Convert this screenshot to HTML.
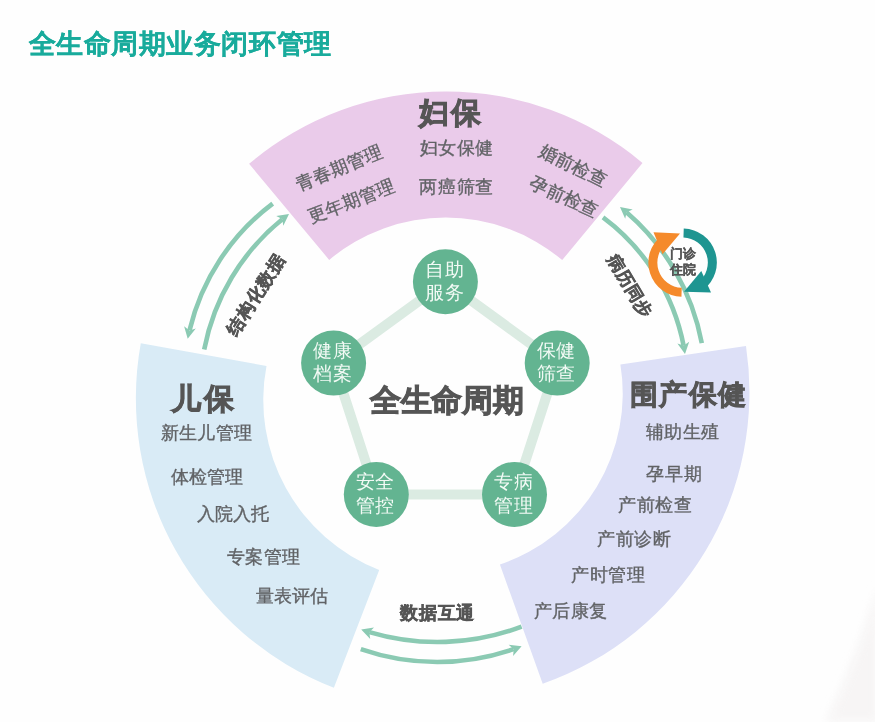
<!DOCTYPE html>
<html><head><meta charset="utf-8"><style>
html,body{margin:0;padding:0;background:#fefefe;width:875px;height:722px;overflow:hidden}
svg{position:absolute;left:0;top:0;font-family:"Liberation Sans", sans-serif;will-change:transform}
</style></head><body>
<svg width="875" height="722" viewBox="0 0 875 722"><defs><filter id="bl" x="-50%" y="-50%" width="200%" height="200%"><feGaussianBlur stdDeviation="5"/></filter></defs>
<path d="M878,585 C866,630 846,680 826,722 L878,722 Z" fill="#f4f2f2" opacity="0.75" filter="url(#bl)"/>
<path d="M249.1,163.8 A305.4,305.4 0 0 1 642.5,162.9 L562.2,260.1 A180.9,180.9 0 0 0 329.2,259.9 Z" fill="#eacbea"/>
<path d="M746,346.1 A309,309 0 0 1 542.7,683.8 L499.9,564.5 A180.4,180.4 0 0 0 620.4,364.6 Z" fill="#dde0f7"/>
<path d="M333.9,687.7 A310.4,310.4 0 0 1 140.8,343.2 L266.5,366 A182.3,182.3 0 0 0 379.2,569.9 Z" fill="#d9ebf6"/>
<path d="M272.7,203.6 A223.6,223.6 0 0 0 189.5,330.4" fill="none" stroke="#8bcab3" stroke-width="4.6"/>
<path d="M187.7,338.7 L184.1,326.3 L189.4,330.4 L195.8,328.6 Z" fill="#8bcab3"/>
<path d="M204.2,349.5 A221.2,221.2 0 0 1 282.3,219.3" fill="none" stroke="#8bcab3" stroke-width="4.6"/>
<path d="M289.0,214.1 L283.3,225.7 L282.2,219.1 L276.2,216.1 Z" fill="#8bcab3"/>
<path d="M701.8,343.2 A228.2,228.2 0 0 0 626.5,212.3" fill="none" stroke="#8bcab3" stroke-width="4.6"/>
<path d="M620.0,206.9 L632.7,209.4 L626.6,212.2 L625.2,218.8 Z" fill="#8bcab3"/>
<path d="M603.0,217.4 A209.7,209.7 0 0 1 683.6,345.6" fill="none" stroke="#8bcab3" stroke-width="4.6"/>
<path d="M685.0,354.0 L677.4,343.5 L683.8,345.6 L689.2,341.7 Z" fill="#8bcab3"/>
<path d="M521.6,626.6 A238.0,238.0 0 0 1 369.3,632.1" fill="none" stroke="#8bcab3" stroke-width="4.6"/>
<path d="M361.2,629.5 L374.0,627.5 L369.3,632.2 L370.2,638.9 Z" fill="#8bcab3"/>
<path d="M360.8,649.1 A232.8,232.8 0 0 0 513.6,649.1" fill="none" stroke="#8bcab3" stroke-width="4.6"/>
<path d="M521.6,646.2 L513.1,656.0 L513.7,649.3 L508.7,644.8 Z" fill="#8bcab3"/>
<polygon points="445.4,281.8 333.6,363.1 376.3,494.5 514.5,494.5 557.2,363.1" fill="none" stroke="#dbebe2" stroke-width="10" stroke-linejoin="round"/>
<circle cx="445.4" cy="281.8" r="32.5" fill="#63b491"/>
<text x="444.6" y="275.5" text-anchor="middle" font-size="19" letter-spacing="0.8" fill="#f2faf5">自助</text>
<text x="444.6" y="299.0" text-anchor="middle" font-size="19" letter-spacing="0.8" fill="#f2faf5">服务</text>
<circle cx="333.6" cy="363.1" r="32.5" fill="#63b491"/>
<text x="332.8" y="356.8" text-anchor="middle" font-size="19" letter-spacing="0.8" fill="#f2faf5">健康</text>
<text x="332.8" y="380.3" text-anchor="middle" font-size="19" letter-spacing="0.8" fill="#f2faf5">档案</text>
<circle cx="376.3" cy="494.5" r="32.5" fill="#63b491"/>
<text x="375.5" y="488.2" text-anchor="middle" font-size="19" letter-spacing="0.8" fill="#f2faf5">安全</text>
<text x="375.5" y="511.7" text-anchor="middle" font-size="19" letter-spacing="0.8" fill="#f2faf5">管控</text>
<circle cx="514.5" cy="494.5" r="32.5" fill="#63b491"/>
<text x="513.7" y="488.2" text-anchor="middle" font-size="19" letter-spacing="0.8" fill="#f2faf5">专病</text>
<text x="513.7" y="511.7" text-anchor="middle" font-size="19" letter-spacing="0.8" fill="#f2faf5">管理</text>
<circle cx="557.2" cy="363.1" r="32.5" fill="#63b491"/>
<text x="556.4" y="356.8" text-anchor="middle" font-size="19" letter-spacing="0.8" fill="#f2faf5">保健</text>
<text x="556.4" y="380.3" text-anchor="middle" font-size="19" letter-spacing="0.8" fill="#f2faf5">筛查</text>
<text x="28.5" y="52.9" font-size="26.5" fill="#19ab9c" stroke="#19ab9c" stroke-width="0.2" font-weight="bold" letter-spacing="0.56">全生命周期业务闭环管理</text>
<text x="369.6" y="410.9" font-size="31" fill="#555555" stroke="#555555" stroke-width="0.9299999999999999" font-weight="bold" letter-spacing="-0.06">全生命周期</text>
<text x="418.9" y="123.0" font-size="29.5" fill="#555555" stroke="#555555" stroke-width="0.885" font-weight="bold" letter-spacing="1.61">妇保</text>
<text x="419.6" y="154.4" font-size="18" fill="#616366" stroke="#616366" stroke-width="0.35" font-weight="normal" letter-spacing="0.52">妇女保健</text>
<text x="419.4" y="192.7" font-size="18" fill="#616366" stroke="#616366" stroke-width="0.35" font-weight="normal" letter-spacing="0.58">两癌筛查</text>
<text x="629.9" y="403.5" font-size="27.5" fill="#555555" stroke="#555555" stroke-width="0.825" font-weight="bold" letter-spacing="1.49">围产保健</text>
<text x="645.9" y="437.7" font-size="18" fill="#616366" stroke="#616366" stroke-width="0.35" font-weight="normal" letter-spacing="0.47">辅助生殖</text>
<text x="646.1" y="479.5" font-size="18" fill="#616366" stroke="#616366" stroke-width="0.35" font-weight="normal" letter-spacing="1.05">孕早期</text>
<text x="618.1" y="511.2" font-size="18" fill="#616366" stroke="#616366" stroke-width="0.35" font-weight="normal" letter-spacing="0.63">产前检查</text>
<text x="597.1" y="545.4" font-size="18" fill="#616366" stroke="#616366" stroke-width="0.35" font-weight="normal" letter-spacing="0.61">产前诊断</text>
<text x="570.7" y="581.1" font-size="18" fill="#616366" stroke="#616366" stroke-width="0.35" font-weight="normal" letter-spacing="0.85">产时管理</text>
<text x="533.7" y="616.8" font-size="18" fill="#616366" stroke="#616366" stroke-width="0.35" font-weight="normal" letter-spacing="0.60">产后康复</text>
<text x="171.3" y="409.3" font-size="29.5" fill="#555555" stroke="#555555" stroke-width="0.885" font-weight="bold" letter-spacing="2.40">儿保</text>
<text x="160.7" y="439.1" font-size="18" fill="#616366" stroke="#616366" stroke-width="0.35" font-weight="normal" letter-spacing="0.37">新生儿管理</text>
<text x="171.0" y="483.1" font-size="18" fill="#616366" stroke="#616366" stroke-width="0.35" font-weight="normal" letter-spacing="-0.09">体检管理</text>
<text x="197.2" y="519.6" font-size="18" fill="#616366" stroke="#616366" stroke-width="0.35" font-weight="normal" letter-spacing="-0.15">入院入托</text>
<text x="227.0" y="563.2" font-size="18" fill="#616366" stroke="#616366" stroke-width="0.35" font-weight="normal" letter-spacing="0.46">专案管理</text>
<text x="255.9" y="602.3" font-size="18" fill="#616366" stroke="#616366" stroke-width="0.35" font-weight="normal" letter-spacing="0.20">量表评估</text>
<text x="400.1" y="619.1" font-size="17.5" fill="#555555" stroke="#555555" stroke-width="0.525" font-weight="bold" letter-spacing="0.79">数据互通</text>
<text x="0" y="0" transform="translate(339.2,168.1) rotate(-22)" text-anchor="middle" dominant-baseline="central" font-size="18" fill="#616366" stroke="#616366" stroke-width="0.35" font-weight="normal" letter-spacing="0.2">青春期管理</text>
<text x="0" y="0" transform="translate(351.7,201.4) rotate(-21)" text-anchor="middle" dominant-baseline="central" font-size="18" fill="#616366" stroke="#616366" stroke-width="0.35" font-weight="normal" letter-spacing="0.2">更年期管理</text>
<text x="0" y="0" transform="translate(573.0,165.5) rotate(26.5)" text-anchor="middle" dominant-baseline="central" font-size="18" fill="#616366" stroke="#616366" stroke-width="0.35" font-weight="normal" letter-spacing="0.2">婚前检查</text>
<text x="0" y="0" transform="translate(564.0,197.0) rotate(24.5)" text-anchor="middle" dominant-baseline="central" font-size="18" fill="#616366" stroke="#616366" stroke-width="0.35" font-weight="normal" letter-spacing="0.2">孕前检查</text>
<text x="0" y="0" transform="translate(255.9,294.3) rotate(-57.5)" text-anchor="middle" dominant-baseline="central" font-size="17.5" fill="#555555" stroke="#555555" stroke-width="0.5" font-weight="bold" letter-spacing="0.5">结构化数据</text>
<text x="0" y="0" transform="translate(629.6,286.1) rotate(59.4)" text-anchor="middle" dominant-baseline="central" font-size="17" fill="#555555" stroke="#555555" stroke-width="0.5" font-weight="bold" letter-spacing="0.5">病历同步</text>
<path d="M681.6,292.3 A29.7,29.7 0 0 1 664.3,239.2" fill="none" stroke="#f58a2b" stroke-width="9"/>
<path d="M653.5,232.2 L680,233.5 L662.5,254.3 Z" fill="#f58a2b"/>
<path d="M683.6,232.9 A29.7,29.7 0 0 1 700.9,286.0" fill="none" stroke="#1e9591" stroke-width="9"/>
<path d="M684,291.7 L711,292.4 L701.3,271 Z" fill="#1e9591"/>
<text x="683" y="257.5" text-anchor="middle" font-size="13" font-weight="bold" fill="#555555" stroke="#555555" stroke-width="0.2">门诊</text>
<text x="683" y="274" text-anchor="middle" font-size="13" font-weight="bold" fill="#555555" stroke="#555555" stroke-width="0.2">住院</text>
</svg></body></html>
